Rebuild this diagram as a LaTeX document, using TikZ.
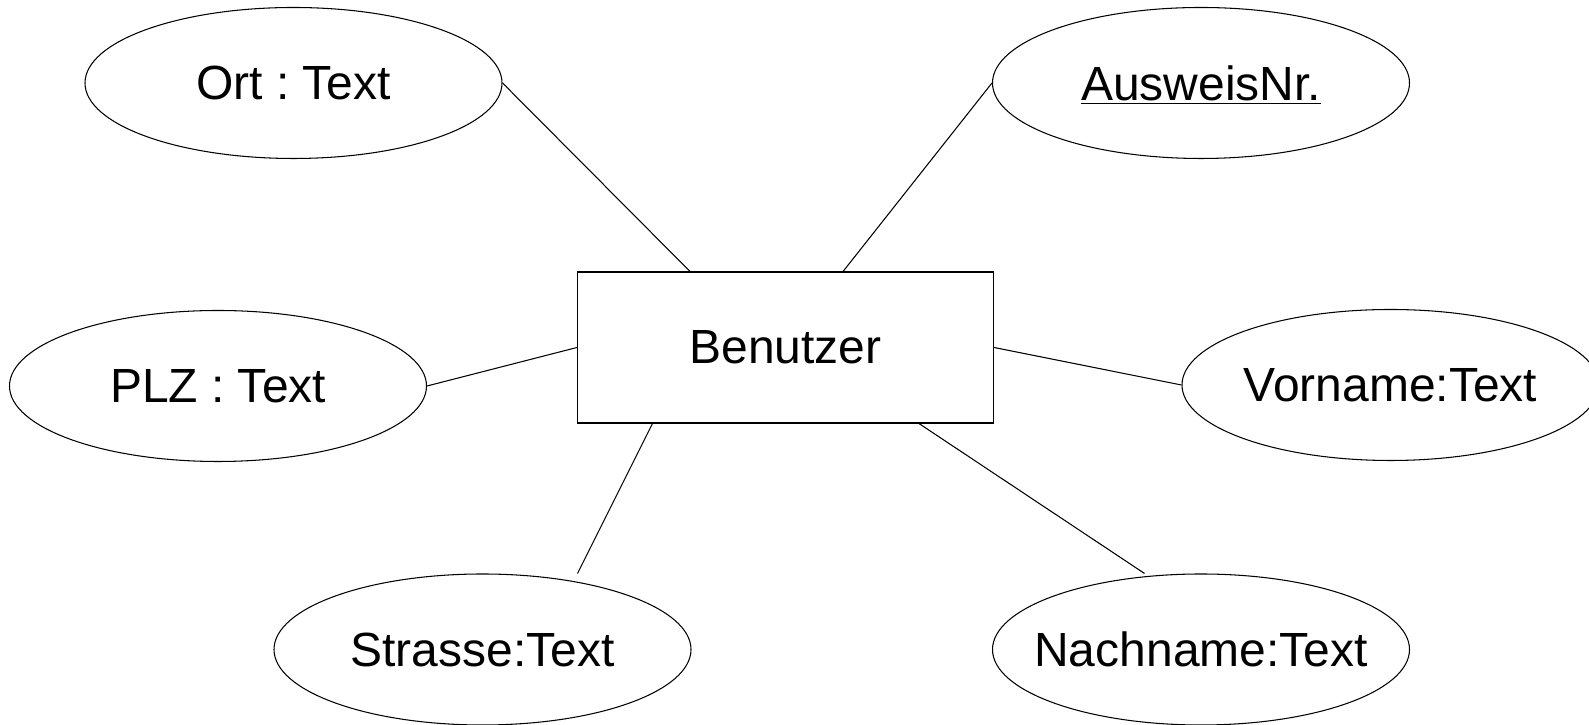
\documentclass[tikz,border=0pt]{standalone}
\usepackage{fontspec}
\setmainfont{Liberation Sans}
\usetikzlibrary{shapes.geometric,calc}
\frenchspacing
\begin{document}
\begin{tikzpicture}[line width=0.6pt, font=\fontsize{27.3}{32}\selectfont, attr/.style={draw, ellipse, minimum width=8.34cm, minimum height=3.02cm, inner sep=0pt}, entity/.style={draw, rectangle, minimum width=8.32cm, minimum height=3.02cm, inner sep=0pt}]
	\useasboundingbox (0,0) rectangle (31.78,14.5);
	\node[entity] (B) at (15.71,7.55) {Benutzer};
	\node[attr] (O) at (5.87,12.84) {\makebox[0pt]{Ort : Text}};
	\node[attr, text depth=0pt] (A) at (24.02,12.84) {\makebox[0pt]{\underline{AusweisNr.}}};
	\node[attr] (P) at (4.36,6.78) {\makebox[0pt]{PLZ : Text}};
	\node[attr] (V) at (27.81,6.80) {\makebox[0pt]{Vorname:Text}};
	\node[attr] (S) at (9.65,1.51) {\makebox[0pt]{Strasse:Text}};
	\node[attr] (N) at (24.02,1.51) {\makebox[0pt]{Nachname:Text}};
	\draw (O.east) -- ($(B.north west)!0.271!(B.north east)$);
	\draw (A.west) -- ($(B.north west)!0.638!(B.north east)$);
	\draw (P.east) -- (B.west);
	\draw (B.east) -- (V.west);
	\draw ($(B.south west)!0.181!(B.south east)$) -- ($(S.north)+(1.9,0)$);
	\draw ($(B.south west)!0.82!(B.south east)$) -- ($(N.north)+(-1.13,0)$);
\end{tikzpicture}
\end{document}
